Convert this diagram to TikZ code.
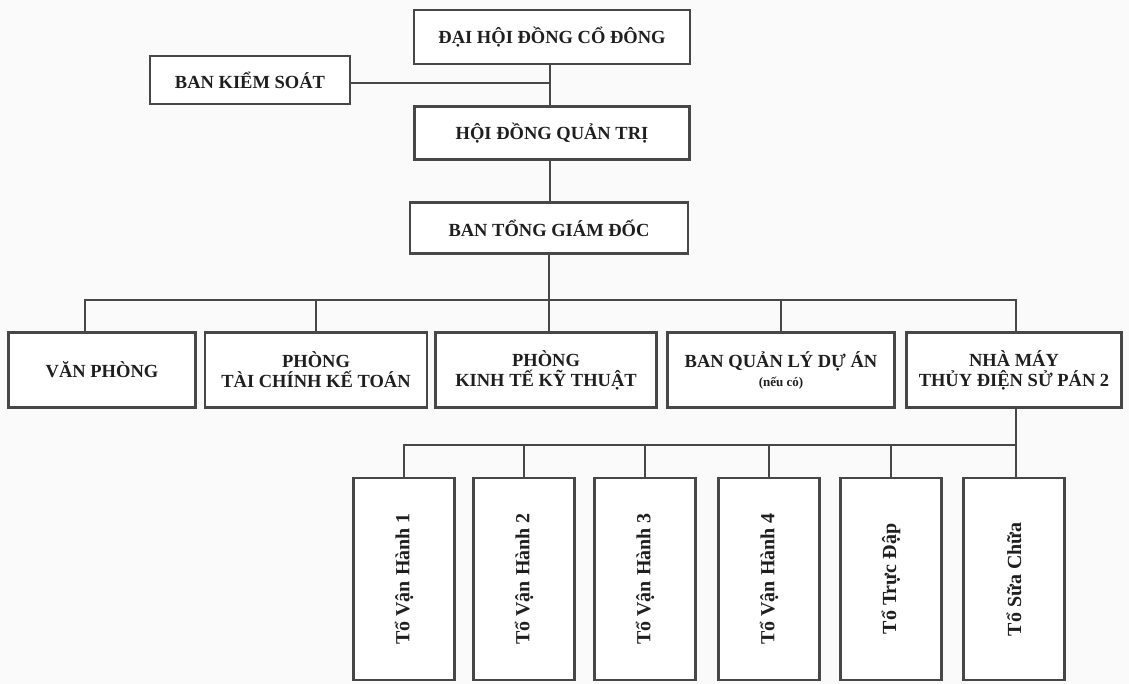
\documentclass[tikz,border=0pt]{standalone}
\usepackage{fontspec}
\setmainfont{Liberation Serif}
\begin{document}
\begin{tikzpicture}[x=1pt,y=-1pt,
  box/.style={draw=black!72, line width=2.2pt, fill=white, inner sep=0pt, align=center,
    text=black!88, font=\bfseries\fontsize{18.5}{20}\selectfont},
  tobox/.style={box, minimum width=101pt, minimum height=202pt},
  vlabel/.style={rotate=90, text=black!88, font=\bfseries\fontsize{20}{22}\selectfont},
  conn/.style={draw=black!72, line width=2.2pt}]
\useasboundingbox[fill=black!2] (0,0) rectangle (1129,684);

% top levels
\node[box, minimum width=276pt, minimum height=54pt] (dh) at (552,37) {ĐẠI HỘI ĐỒNG CỔ ĐÔNG};
\node[box, minimum width=200pt, minimum height=48pt] (ks) at (250,80) {BAN KIỂM SOÁT};
\node[box, minimum width=275pt, minimum height=53pt] (hd) at (552,133) {HỘI ĐỒNG QUẢN TRỊ};
\node[box, minimum width=278pt, minimum height=51pt] (tg) at (549,228) {BAN TỔNG GIÁM ĐỐC};

% second level
\node[box, minimum width=187pt, minimum height=75pt] (vp) at (102,370) {VĂN PHÒNG};
\node[box, minimum width=222pt, minimum height=75pt] (tc) at (316,370) {PHÒNG\\TÀI CHÍNH KẾ TOÁN};
\node[box, minimum width=221pt, minimum height=75pt] (kt) at (546,370) {PHÒNG\\KINH TẾ KỸ THUẬT};
\node[box, minimum width=227pt, minimum height=75pt] (ql) at (781,370) {BAN QUẢN LÝ DỰ ÁN\\[-1pt]{\fontsize{13}{15}\selectfont (nếu có)}};
\node[box, minimum width=215pt, minimum height=75pt] (nm) at (1014,370) {NHÀ MÁY\\THỦY ĐIỆN SỬ PÁN 2};

% third level
\node[tobox] (t1) at (404,579) {};
\node[tobox] (t2) at (524,579) {};
\node[tobox] (t3) at (645,579) {};
\node[tobox] (t4) at (769,579) {};
\node[tobox] (t5) at (891,579) {};
\node[tobox] (t6) at (1014,579) {};
\node[vlabel] (l1) at (t1) {Tổ Vận Hành 1};
\node[vlabel] (l2) at (t2) {Tổ Vận Hành 2};
\node[vlabel] (l3) at (t3) {Tổ Vận Hành 3};
\node[vlabel] (l4) at (t4) {Tổ Vận Hành 4};
\node[vlabel] (l5) at (t5) {Tổ Trực Đập};
\node[vlabel] (l6) at (t6) {Tổ Sữa Chữa};

% connectors top
\draw[conn] ([xshift=-2pt]dh.south) -- ([xshift=-2pt]hd.north);
\draw[conn] (ks.east |- 0,83) -- ([xshift=-2pt]dh.south |- 0,83);
\draw[conn] ([xshift=-2pt]hd.south) -- ([xshift=-2pt]hd.south |- tg.north);

% bus level 2
\coordinate (b2) at (549,300);
\draw[conn] (tg.south) -- (tg.south |- kt.north);
\draw[conn] ([xshift=-17pt]vp.north) |- (b2) -| ([xshift=2pt]nm.north);
\draw[conn] (tc.north) -- (tc.north |- b2);
\draw[conn] (ql.north) -- (ql.north |- b2);

% bus level 3
\coordinate (b3) at (1016,445);
\draw[conn] ([xshift=2pt]nm.south) -- ([xshift=2pt]t6.north);
\draw[conn] (t1.north) |- (b3);
\draw[conn] (t2.north) -- (t2.north |- b3);
\draw[conn] (t3.north) -- (t3.north |- b3);
\draw[conn] (t4.north) -- (t4.north |- b3);
\draw[conn] (t5.north) -- (t5.north |- b3);
\end{tikzpicture}
\end{document}
